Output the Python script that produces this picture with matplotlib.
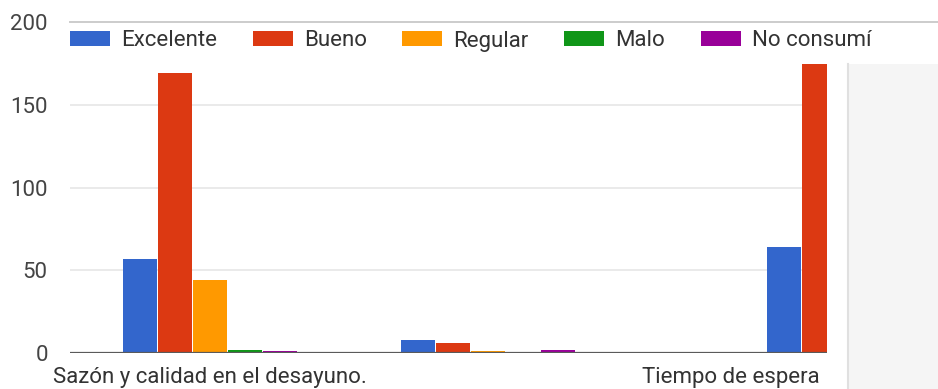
import matplotlib
matplotlib.use("Agg")
import matplotlib.pyplot as plt
import numpy as np
from matplotlib.patches import Rectangle
from matplotlib.transforms import Bbox, TransformedBbox, blended_transform_factory

plt.rcParams['font.family'] = ['Roboto', 'DejaVu Sans']

# data
series = ["Excelente", "Bueno", "Regular", "Malo", "No consumí"]
colors = ["#3366cc", "#dc3912", "#ff9900", "#109618", "#990099"]
group_pos = [0, 1, 2.3165]          # third group sits further right in the screenshot
group_labels = ["Sazón y calidad en el desayuno.", "", "Tiempo de espera para recibir el desayuno."]
excelente = [57, 8, 64]
bueno = [169, 6, 175]
regular = [44, 1, 0]
malo = [2, 0, 0]
no_consumi = [1, 2, 0]
values = [excelente, bueno, regular, malo, no_consumi]

W, H = 938, 389
fig = plt.figure(figsize=(W / 100, H / 100), dpi=100)
ax = fig.add_axes([70 / W, 36 / H, (827 - 70) / W, (353 - 22) / H])

pitch = 35 / 278
width = 33.5 / 278
x = np.array(group_pos)
for i, (name, vals, c) in enumerate(zip(series, values, colors)):
    ax.bar(x + (i - 2) * pitch, vals, width=width, color=c, label=name,
           linewidth=0, zorder=3)

ax.set_yticks([0, 50, 100, 150, 200])
ax.tick_params(axis="y", length=0, pad=16, labelsize=16, labelcolor="#444444")
ax.set_xticks([])
ax.set_xlim(-0.504, 2.219)
ax.set_ylim(0, 200)

# category labels, clipped at the cut edge of the screenshot
clip = TransformedBbox(Bbox([[0, 0], [826 / W, 1]]), fig.transFigure)
trans = blended_transform_factory(ax.transData, ax.transAxes)
for xp, lab in zip(group_pos, group_labels):
    t = ax.text(xp, -0.043, lab, transform=trans, ha="center", va="top",
                fontsize=16, color="#333333", clip_on=True)
    t.set_clip_box(clip)

for s in ax.spines.values():
    s.set_visible(False)
ax.grid(False)
for v in [50, 100, 150]:
    ax.axhline(v, color="#e6e6e6", linewidth=1.2, zorder=1)
ax.axhline(200, xmin=0, xmax=(W - 70) / (827 - 70), color="#cccccc",
           linewidth=1.4, zorder=1, clip_on=False)
ax.axhline(0, color="#5a5a5a", linewidth=1.6, zorder=4)

# legend strip (white) over the top of the plot
ax.add_patch(Rectangle((0, (353 - 64) / (353 - 22)), 1, 0.12,
                       transform=ax.transAxes, facecolor="white", edgecolor="none",
                       zorder=5, clip_on=False))
leg = ax.legend(loc="center left", bbox_to_anchor=(70 / W, 1 - 41 / H),
                bbox_transform=fig.transFigure, ncol=5, frameon=False,
                fontsize=16, handlelength=1.8, handleheight=0.62,
                handletextpad=0.5, columnspacing=1.6, borderpad=0,
                borderaxespad=0)
leg.set_zorder(6)
for t in leg.get_texts():
    t.set_color("#333333")

# grey side panel of the screenshot
fig.patches.append(Rectangle((848 / W, 0), (W - 848) / W, (H - 64) / H,
                             transform=fig.transFigure, facecolor="#f5f5f5",
                             edgecolor="none", zorder=0))
fig.lines.append(plt.Line2D([848 / W, 848 / W], [0, (H - 64) / H],
                            transform=fig.transFigure, color="#e0e0e0", linewidth=1.5))

fig.savefig("out.png", dpi=100)
